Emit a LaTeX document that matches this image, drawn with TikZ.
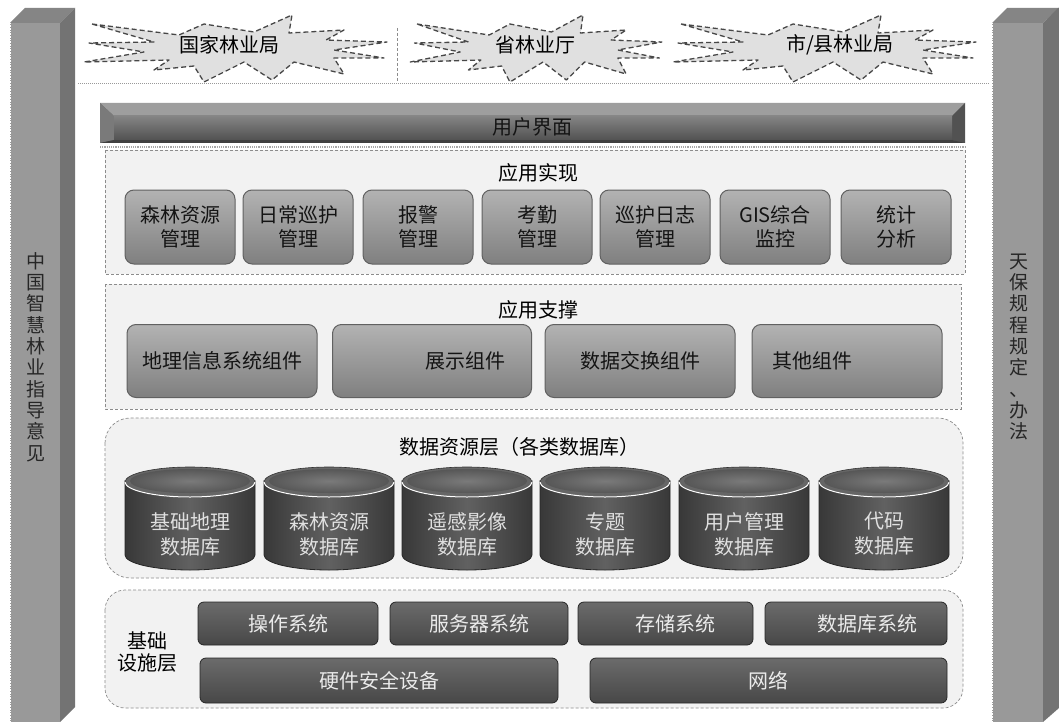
\documentclass[tikz,border=0pt]{standalone}
\usepackage{fontspec}
\setmainfont{Noto Sans CJK SC}
\usetikzlibrary{calc}
\begin{document}
\begin{tikzpicture}[x=1pt,y=-1pt,
  txt/.style={font=\fontsize{20}{24}\selectfont, align=center, inner sep=0pt},
  vtxt/.style={font=\fontsize{19}{21.3}\selectfont, align=center, inner sep=0pt, text=black!85},
  barfront/.style={fill=black!40},
  bartop/.style={fill=black!48},
  barside/.style={fill=black!55},
  cloudst/.style={fill=black!12, draw=black!72, line width=1.3pt, dash pattern=on 5pt off 3pt, line join=round},
  panel/.style={fill=black!5, draw=black!45, densely dashed, line width=0.7pt},
  appbox/.style={txt, draw=black!62, line width=1pt, rounded corners=9pt, top color=black!30, bottom color=black!50, text=black!92},
  infrabox/.style={txt, draw=black!85, line width=0.8pt, rounded corners=6pt, top color=black!58, bottom color=black!72, text=black!8},
  dbtext/.style={txt, text=black!12, font=\fontsize{20}{25}\selectfont},
]
\useasboundingbox (0,0) rectangle (1059,722);
\fill[white] (0,0) rectangle (1059,722);

% ---------- side bars ----------
\fill[barfront] (10,23) rectangle (60,722);
\fill[bartop] (10,23) -- (25,8) -- (75,8) -- (60,23) -- cycle;
\fill[barside] (60,23) -- (75,8) -- (75,707) -- (60,722) -- cycle;
\draw[white, densely dotted, line width=0.6pt] (10,23) -- (10,722);
\node[vtxt] (leftbar) at (36,357) {中\\国\\智\\慧\\林\\业\\指\\导\\意\\见};

\fill[barfront] (992,23) rectangle (1043,722);
\fill[bartop] (992,23) -- (1007,8) -- (1059,8) -- (1043,23) -- cycle;
\fill[barside] (1043,23) -- (1058,8) -- (1059,8) -- (1059,708) -- (1043,722) -- cycle;
\draw[white, densely dotted, line width=0.6pt] (992,23) -- (992,722);
\node[vtxt] (rightbar) at (1019,347) {天\\保\\规\\程\\规\\定\\、\\办\\法};

% ---------- top clouds ----------
\def\cloudpath{(-141,-23) -- (-54,-12) -- (-29,-23) -- (21,-15) -- (59,-32) -- (56,-14) -- (111,-17) -- (93,-7) -- (154,-5) -- (101,3) -- (151,11) -- (101,11) -- (111,27) -- (61,15) -- (39,33) -- (11,15) -- (-29,35) -- (-39,19) -- (-79,23) -- (-64,13) -- (-149,15) -- (-89,5) -- (-144,-4) -- (-79,-5) -- cycle}
\path[cloudst, shift={(233,47)}] \cloudpath;
\path[cloudst, shift={(534,47)}, xscale=0.83] \cloudpath;
\path[cloudst, shift={(822,47)}] \cloudpath;
\node[txt] (gj) at (229,45) {国家林业局};
\node[txt] (sheng) at (535,45) {省林业厅};
\node[txt] (shi) at (840,45) {市/县林业局};
\coordinate (sepT) at (397,28);
\coordinate (sepB) at (397,82);
\draw[black!45, densely dashed, line width=0.6pt] (sepT) -- (sepB);
\coordinate (hlL) at (78,84);
\coordinate (hlR) at (990,84);
\draw[black!40, densely dotted, line width=1pt] (hlL) -- (hlR);

% ---------- user interface bar ----------
\fill[black!62] (100,103) rectangle (965,143);
\fill[black!38] (100,103) -- (965,103) -- (952,116) -- (114,116) -- cycle;
\fill[black!52] (100,103) -- (114,116) -- (114,140) -- (100,143) -- cycle;
\fill[black!68] (965,103) -- (952,116) -- (952,140) -- (965,143) -- cycle;
\fill[black!75] (100,143) -- (114,140) -- (952,140) -- (965,143) -- cycle;
\shade[top color=black!48, bottom color=black!68] (114,116) rectangle (952,140);
\node[txt, text=black!92] (ui) at (532,127) {用户界面};
\draw[black!35, densely dotted, line width=1.2pt] (100,147) -- (965,147);

% ---------- application layer ----------
\draw[panel] (105,150) rectangle (965,274);
\node[txt] (yysx) at (538,173) {应用实现};
\foreach \cx/\t [count=\i] in {180/森林资源\\管理, 298/日常巡护\\管理, 418/报警\\管理, 537/考勤\\管理, 655/巡护日志\\管理, 775/GIS综合\\监控, 896/统计\\分析}
  \node[appbox, minimum width=110pt, minimum height=74pt] (app\i) at (\cx,227) {\t};

% ---------- application support ----------
\draw[panel] (105,284) rectangle (961,409);
\node[txt] (yyzc) at (538,310) {应用支撑};
\node[appbox, minimum width=190pt, minimum height=73pt] (sup1) at (222,361) {地理信息系统组件};
\node[appbox, minimum width=199pt, minimum height=73pt] (sup2) at (432,361) {\hspace*{66pt}展示组件};
\node[appbox, minimum width=190pt, minimum height=73pt] (sup3) at (640,361) {数据交换组件};
\node[appbox, minimum width=190pt, minimum height=73pt] (sup4) at (847,361) {其他组件\hspace*{70pt}};

% ---------- data resource layer ----------
\draw[panel, rounded corners=25pt] (105,418) rectangle (963,578);
\node[txt] (sjzy) at (519,447) {数据资源层（各类数据库）};
\foreach \cx/\t [count=\i] in {190/基础地理\\数据库, 329/森林资源\\数据库, 467/遥感影像\\数据库, 605/专题\\数据库, 744/用户管理\\数据库, 884/代码\\数据库}{
  \shade[left color=black!78, right color=black!78, middle color=black!62, draw=black!85, line width=0.8pt]
    (\cx-65,482) -- (\cx-65,555) arc[start angle=180, end angle=0, x radius=65, y radius=15]
    -- (\cx+65,482) arc[start angle=0, end angle=180, x radius=65, y radius=15] -- cycle;
  \fill[black!60] (\cx,482) ellipse[x radius=65, y radius=15];
  \shade[inner color=black!52, outer color=black!66] (\cx,481) ellipse[x radius=60, y radius=12];
  \draw[white, line width=1pt] (\cx-65,482) arc[start angle=180, end angle=0, x radius=65, y radius=15];
  \draw[black!80, line width=0.6pt] (\cx+65,482) arc[start angle=0, end angle=-180, x radius=65, y radius=15];
  \node[dbtext] (db\i) at (\cx,534) {\t};
}

% ---------- infrastructure layer ----------
\draw[panel, rounded corners=20pt] (105,590) rectangle (963,708);
\node[txt, font=\fontsize{20}{22}\selectfont] (jcss) at (147,652) {基础\\设施层};
\node[infrabox, minimum width=180pt, minimum height=43pt] (os) at (288,623.5) {操作系统};
\node[infrabox, minimum width=178pt, minimum height=43pt] (srv) at (479,623.5) {服务器系统};
\node[infrabox, minimum width=175pt, minimum height=43pt] (stor) at (665.5,623.5) {\hspace*{20pt}存储系统};
\node[infrabox, minimum width=182pt, minimum height=43pt] (dbs) at (856,623.5) {\hspace*{22pt}数据库系统};
\node[infrabox, minimum width=358pt, minimum height=45pt] (hw) at (379,680.5) {硬件安全设备};
\node[infrabox, minimum width=357pt, minimum height=45pt] (net) at (768.5,680.5) {网络};
\end{tikzpicture}
\end{document}
